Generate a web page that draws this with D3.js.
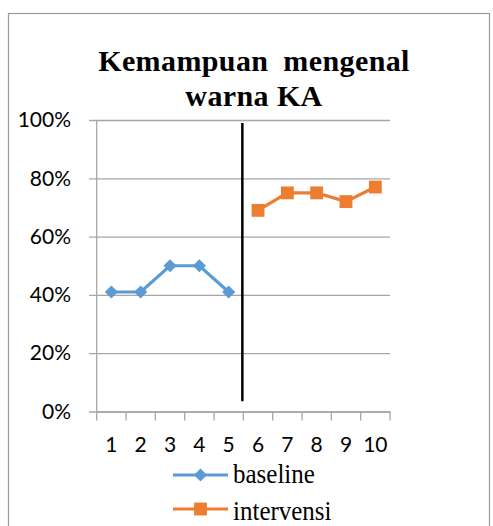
<!DOCTYPE html>
<html>
<head>
<meta charset="utf-8">
<script src="https://cdn.jsdelivr.net/npm/d3@7"></script>
<style>
  body { margin: 0; background: #fff; }
</style>
</head>
<body>
<div id="chart"></div>
<script>
// data
const categories = ["1", "2", "3", "4", "5", "6", "7", "8", "9", "10"];
const baselineCats = ["1", "2", "3", "4", "5"];
const baselineVals = [0.41, 0.41, 0.50, 0.50, 0.41];
const intervensiCats = ["6", "7", "8", "9", "10"];
const intervensiVals = [0.69, 0.75, 0.75, 0.72, 0.77];
const yTicks = [0, 0.2, 0.4, 0.6, 0.8, 1];
const phaseSplit = "6";          // phase line sits on the left edge of session 6
const phaseExtent = [0.99, 0.035];
const titleLines = ["Kemampuan mengenal", "warna KA"];
const legendNames = ["baseline", "intervensi"];

const W = 493, H = 526;
const svg = d3.select("#chart").append("svg")
    .attr("width", W)
    .attr("height", H);

// chart frame
svg.append("rect")
    .attr("x", 8.5).attr("y", 13.5)
    .attr("width", 481).attr("height", 530)
    .attr("fill", "none")
    .attr("stroke", "#9a9a9a")
    .attr("stroke-width", 1.2);

var x = d3.scaleBand().domain(categories).range([96.7, 390]);
var y = d3.scaleLinear().domain([0, 1]).range([411.5, 120]);

// gridlines + y labels
var gy = svg.append("g")
    .attr("transform", "translate(390,0)")
    .call(d3.axisLeft(y).tickValues(yTicks).tickFormat(d3.format(".0%"))
      .tickSize(301).tickPadding(18));
gy.select(".domain").remove();
gy.selectAll("line").attr("stroke", "#a6a6a6").attr("stroke-width", 1.3);
gy.selectAll("text")
    .attr("font-family", "Lato, 'Open Sans', sans-serif")
    .attr("font-size", 21)
    .attr("fill", "#000");

// vertical axis line
svg.append("line")
    .attr("x1", x.range()[0]).attr("x2", x.range()[0])
    .attr("y1", y(1)).attr("y2", y(0))
    .attr("stroke", "#a6a6a6").attr("stroke-width", 1.3);

// x axis with ticks at category boundaries
var gx = svg.append("g")
    .attr("transform", "translate(0," + y(0) + ")")
    .call(d3.axisBottom(x).tickSize(0).tickPadding(26));
gx.select(".domain").attr("stroke", "#a6a6a6").attr("stroke-width", 1.3);
gx.selectAll("text")
    .attr("font-family", "Lato, 'Open Sans', sans-serif")
    .attr("font-size", 21)
    .attr("fill", "#000");
var bounds = categories.map(function(c) { return x(c); }).concat([x.range()[1]]);
gx.selectAll(".bound")
    .data(bounds)
    .enter().append("line")
    .attr("x1", function(d) { return d; })
    .attr("x2", function(d) { return d; })
    .attr("y1", 0).attr("y2", 9)
    .attr("stroke", "#a6a6a6").attr("stroke-width", 1.3);

// phase line
svg.append("line")
    .attr("x1", x(phaseSplit) - 1).attr("x2", x(phaseSplit) - 1)
    .attr("y1", y(phaseExtent[0])).attr("y2", y(phaseExtent[1]))
    .attr("stroke", "#000").attr("stroke-width", 2.5);

var cx = function(c) { return x(c) + x.bandwidth() / 2; };
var line = d3.line()
    .x(function(d) { return cx(d[0]); })
    .y(function(d) { return y(d[1]); });

var blue = "#5b9bd5", orange = "#ed7d31";

var baseData = d3.zip(baselineCats, baselineVals);
var intData = d3.zip(intervensiCats, intervensiVals);

svg.append("path").datum(baseData)
    .attr("d", line).attr("fill", "none")
    .attr("stroke", blue).attr("stroke-width", 3.2);
svg.append("path").datum(intData)
    .attr("d", line).attr("fill", "none")
    .attr("stroke", orange).attr("stroke-width", 3.2);

var diamond = d3.symbol().type(d3.symbolDiamond2).size(110);
var square = d3.symbol().type(d3.symbolSquare).size(165);

svg.selectAll(".dia").data(baseData).enter().append("path")
    .attr("d", diamond)
    .attr("transform", function(d) { return "translate(" + cx(d[0]) + "," + y(d[1]) + ")"; })
    .attr("fill", blue);
svg.selectAll(".sq").data(intData).enter().append("path")
    .attr("d", square)
    .attr("transform", function(d) { return "translate(" + cx(d[0]) + "," + y(d[1]) + ")"; })
    .attr("fill", orange);

// title, two lines
var title = svg.append("text")
    .attr("text-anchor", "middle")
    .attr("font-family", "'Liberation Serif', 'Times New Roman', serif")
    .attr("font-weight", "bold")
    .attr("font-size", 30)
    .attr("letter-spacing", 0.4)
    .attr("fill", "#000");
title.selectAll("tspan").data(titleLines).enter().append("tspan")
    .attr("x", 254)
    .attr("y", function(d, i) { return 71 + i * 35; })
    .attr("word-spacing", function(d, i) { return i ? 0 : 7; })
    .text(function(d) { return d; });

// legend
var legend = svg.selectAll(".leg").data(legendNames).enter().append("g")
    .attr("transform", function(d, i) { return "translate(0," + (475 + i * 34) + ")"; });
legend.append("line")
    .attr("x1", 173).attr("x2", 228)
    .attr("stroke", function(d, i) { return i ? orange : blue; })
    .attr("stroke-width", 3.2);
legend.append("path")
    .attr("d", function(d, i) { return i ? square() : diamond(); })
    .attr("transform", "translate(200.5,0)")
    .attr("fill", function(d, i) { return i ? orange : blue; });
legend.append("text")
    .attr("transform", function(d, i) { return "translate(233," + (8 + i * 3) + ") scale(1,1.1)"; })
    .attr("font-family", "'Liberation Serif', 'Times New Roman', serif")
    .attr("font-size", 25)
    .attr("fill", "#000")
    .text(function(d) { return d; });
</script>
</body>
</html>
